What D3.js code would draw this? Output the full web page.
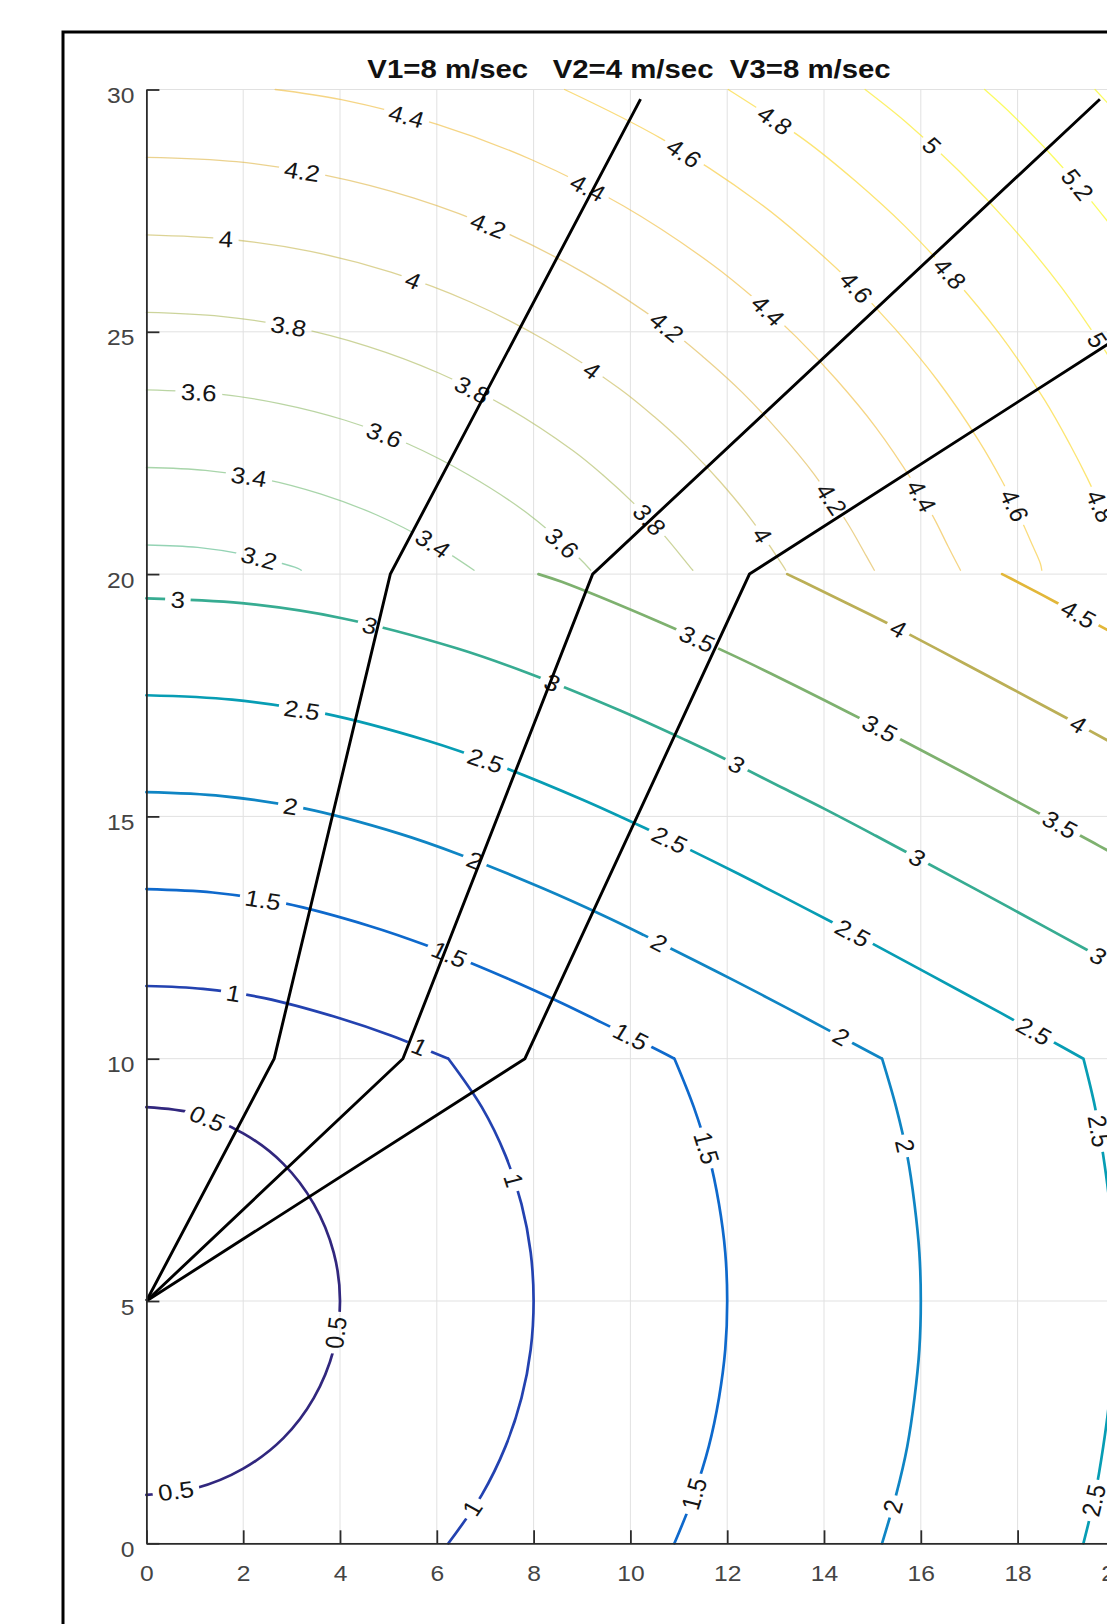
<!DOCTYPE html>
<html>
<head>
<meta charset="utf-8">
<script src="https://cdn.jsdelivr.net/npm/d3@7"></script>
<style>
  body { margin: 0; background: #fff; }
  svg { display: block; }
  text { font-family: "Liberation Sans", Arial, sans-serif; }
</style>
</head>
<body>
<svg id="chart" width="1107" height="1624"></svg>
<script>
// Title and axis ticks.
const title = "V1=8 m/sec   V2=4 m/sec  V3=8 m/sec";
const xTicks = [0, 2, 4, 6, 8, 10, 12, 14, 16, 18, 20];
const yTicks = [0, 5, 10, 15, 20, 25, 30];

// Ray paths from the source at (0,5), bending at the layer boundaries.
const ray1 = [[0, 5], [2.64, 10], [5.04, 20], [10.21, 29.8]];
const ray2 = [[0, 5], [5.3, 10], [9.22, 20], [19.7, 29.8]];
const ray3 = [[0, 5], [7.82, 10], [12.46, 20], [20, 24.83]];

// Travel time contours for layers 1 and 2 (step 0.5).
const lo05 = [[0, 9], [1, 8.87], [2, 8.46], [2.83, 7.83], [3.46, 7], [3.87, 6], [4, 5], [3.87, 4], [3.46, 3], [2.83, 2.17], [2, 1.54], [1, 1.13], [0, 1]];
const lo10 = [[0, 11.5], [1.17, 11.44], [2.44, 11.25], [4.01, 10.83], [5.08, 10.47], [5.75, 10.2], [6.24, 10], [6.93, 9], [7.42, 8], [7.75, 7], [7.94, 6], [8, 5], [7.94, 4], [7.75, 3], [7.42, 2], [6.93, 1], [6.24, 0]];
const lo15 = [[0, 13.5], [1.37, 13.43], [2.84, 13.21], [4.61, 12.74], [5.78, 12.34], [7.4, 11.68], [8.6, 11.14], [9.4, 10.75], [10.44, 10.24], [10.91, 10], [11.31, 9], [11.62, 8], [11.83, 7], [11.96, 6], [12, 5], [11.96, 4], [11.83, 3], [11.62, 2], [11.31, 1], [10.91, 0]];
const lo20 = [[0, 15.5], [1.57, 15.42], [3.24, 15.17], [5.21, 14.65], [6.48, 14.21], [8.2, 13.51], [9.45, 12.95], [10.28, 12.55], [11.34, 12.02], [12.17, 11.6], [13.21, 11.06], [14.09, 10.59], [15.2, 10], [15.49, 9], [15.72, 8], [15.87, 7], [15.97, 6], [16, 5], [15.97, 4], [15.87, 3], [15.72, 2], [15.49, 1], [15.2, 0]];
const lo25 = [[0, 17.5], [1.77, 17.41], [3.64, 17.13], [5.81, 16.56], [7.18, 16.09], [9, 15.35], [10.3, 14.76], [11.15, 14.35], [12.24, 13.81], [13.08, 13.38], [14.14, 12.83], [15.03, 12.36], [16.16, 11.75], [17.66, 10.94], [18.62, 10.41], [19.36, 10], [19.6, 9], [19.77, 8], [19.9, 7], [19.97, 6], [20, 5], [19.97, 4], [19.9, 3], [19.77, 2], [19.6, 1], [19.36, 0]];
const lo30 = [[0, 19.5], [1.97, 19.4], [4.04, 19.09], [6.41, 18.47], [7.88, 17.96], [9.8, 17.18], [11.15, 16.57], [12.03, 16.15], [13.14, 15.59], [14, 15.16], [15.07, 14.6], [15.97, 14.12], [17.11, 13.51], [18.62, 12.69], [19.59, 12.16], [20, 11.93]];
const lo35 = [[8.1, 20], [8.58, 19.84], [10.6, 19.01], [12, 18.38], [12.9, 17.95], [14.04, 17.38], [14.91, 16.94], [16, 16.37], [16.91, 15.89], [18.06, 15.27], [19.58, 14.45], [20, 14.22]];
const lo40 = [[13.24, 20], [13.78, 19.74], [14.94, 19.17], [15.83, 18.72], [16.93, 18.14], [17.85, 17.65], [19.01, 17.03], [20, 16.49]];
const lo45 = [[17.68, 20], [17.86, 19.91], [18.79, 19.42], [19.96, 18.79], [20, 18.77]];
const lowerLevels = [0.5, 1, 1.5, 2, 2.5, 3, 3.5, 4, 4.5];
const lowerLines = [lo05, lo10, lo15, lo20, lo25, lo30, lo35, lo40, lo45];

// Layer 3 contours (step 0.2), thinner lines.
const up32 = [[0, 20.6], [1.06, 20.55], [2.1, 20.39], [3.13, 20.12], [3.2, 20.08]];
const up34 = [[0, 22.2], [1.22, 22.14], [2.43, 21.96], [3.61, 21.65], [4.76, 21.22], [5.85, 20.67], [6.77, 20.08]];
const up36 = [[0, 23.8], [1.38, 23.73], [2.75, 23.52], [4.09, 23.18], [5.4, 22.69], [6.65, 22.05], [7.85, 21.27], [8.95, 20.32], [9.18, 20.08]];
const up38 = [[0, 25.4], [1.54, 25.32], [3.07, 25.09], [4.57, 24.7], [6.04, 24.15], [7.45, 23.44], [8.81, 22.55], [9.45, 22.03], [10.07, 21.46], [10.66, 20.84], [11.23, 20.15], [11.29, 20.08]];
const up40 = [[0, 27], [1.7, 26.91], [3.39, 26.66], [5.05, 26.23], [6.68, 25.62], [8.25, 24.82], [9.77, 23.83], [10.49, 23.25], [11.19, 22.61], [11.86, 21.9], [12.51, 21.11], [13.12, 20.22], [13.21, 20.08]];
const up42 = [[0, 28.6], [1.86, 28.51], [3.71, 28.23], [5.53, 27.76], [7.32, 27.09], [9.05, 26.21], [10.73, 25.11], [11.53, 24.46], [12.31, 23.75], [13.06, 22.95], [13.79, 22.07], [14.48, 21.06], [14.87, 20.38], [15.04, 20.08]];
const up44 = [[2.66, 30], [4.03, 29.79], [6.01, 29.28], [7.96, 28.55], [9.85, 27.6], [11.69, 26.39], [12.57, 25.68], [13.43, 24.89], [14.26, 24.01], [15.07, 23.03], [15.84, 21.9], [16.28, 21.14], [16.56, 20.58], [16.82, 20.08]];
const up46 = [[8.64, 30], [10.65, 28.98], [12.65, 27.67], [13.61, 26.89], [14.55, 26.03], [15.46, 25.07], [16.35, 23.99], [17.2, 22.75], [17.69, 21.9], [18, 21.28], [18.31, 20.59], [18.47, 20.22], [18.5, 20.08]];
const up48 = [[12.02, 30], [13.61, 28.95], [14.65, 28.11], [15.67, 27.18], [16.66, 26.13], [17.63, 24.95], [18.56, 23.59], [19.09, 22.66], [19.44, 21.98], [19.79, 21.22], [19.96, 20.81], [20, 20.69]];
const up50 = [[14.85, 30], [15.69, 29.33], [16.79, 28.32], [17.86, 27.19], [18.91, 25.91], [19.92, 24.43], [20, 24.28]];
const up52 = [[17.32, 30], [17.91, 29.46], [19.06, 28.25], [20, 27.1]];
const up54 = [[19.6, 30], [20, 29.57]];
const upperLevels = [3.2, 3.4, 3.6, 3.8, 4, 4.2, 4.4, 4.6, 4.8, 5, 5.2, 5.4];
const upperLines = [up32, up34, up36, up38, up40, up42, up44, up46, up48, up50, up52, up54];

// Inline label spots: [level, x, y] (snapped to the line below).
const lowerLabels = [
  [3, 0.65, 19.46], [3, 4.61, 18.9], [3.5, 11.35, 18.6], [4, 15.5, 18.8], [4.5, 19.22, 19.1],
  [2.5, 3.2, 17.1], [3, 8.36, 17.7], [3.5, 15.12, 16.75], [4, 19.23, 16.85],
  [2.5, 6.97, 16.04], [3, 12.17, 16.02], [3.5, 18.83, 14.75],
  [2, 2.97, 15.14], [2, 6.77, 14.05], [2.5, 10.77, 14.43], [3, 15.91, 14.11], [3, 19.65, 12.08],
  [1.5, 2.41, 13.28], [1.5, 6.22, 12.06], [2, 10.58, 12.36], [2.5, 14.56, 12.53],
  [2, 14.35, 10.44], [2.5, 18.29, 10.48],
  [1, 1.79, 11.29], [1, 5.6, 10.14], [1.5, 9.98, 10.4],
  [0.5, 1.23, 8.7], [1, 7.46, 7.45], [1.5, 11.48, 8.13], [2, 15.63, 8.19], [2.5, 19.65, 8.5],
  [0.5, 3.89, 4.35], [0.5, 0.61, 1.08], [1, 6.75, 0.71], [1.5, 11.35, 1.01], [2, 15.42, 0.76], [2.5, 19.5, 0.9]
];
const upperLabels = [
  [4.4, 5.36, 29.4], [4.2, 3.2, 28.2], [4, 1.64, 26.85], [3.8, 2.92, 25.0], [3.6, 1.08, 23.7], [3.4, 2.11, 21.95], [3.2, 2.32, 20.3],
  [4.2, 7.03, 27.1], [4, 5.49, 26.0], [3.8, 6.71, 23.75], [3.6, 4.89, 22.8], [3.4, 5.9, 20.6],
  [4.4, 9.11, 27.95], [4.6, 11.05, 28.6], [4.8, 12.94, 29.3], [5, 16.19, 28.8], [5.2, 19.19, 28.0],
  [4.2, 10.67, 25.0], [4, 9.17, 24.15], [4.4, 12.81, 25.4], [4.6, 14.65, 25.9], [4.8, 16.49, 26.1], [5, 19.6, 24.8],
  [3.8, 10.37, 21.1], [3.6, 8.55, 20.6], [4, 12.72, 20.8], [4.2, 14.09, 21.5], [4.4, 16.0, 21.6], [4.6, 17.9, 21.4], [4.8, 19.7, 21.4]
];

const svg = d3.select("#chart");
const x = d3.scaleLinear().domain([0, 20]).range([146.4, 1114.4]);
const y = d3.scaleLinear().domain([0, 30]).range([1543.3, 89.5]);
// The reference picture is a little wider than tall, so text is stretched too.
const stretch = 1.12;

// parula colormap, a few stops of it.
const parula = d3.scaleLinear()
  .domain([0, 0.095, 0.19, 0.286, 0.397, 0.492, 0.587, 0.698, 0.794, 0.889, 1])
  .range(["#352a87", "#2053d4", "#0d75dc", "#108ed2", "#07a9c2", "#2eb7a4", "#71bf80", "#b7bd64", "#e9b94e", "#fcce2e", "#f9fb0e"])
  .clamp(true);
const color = v => parula((v - 0.7) / 4.5);

// Outer figure frame.
svg.append("rect")
  .attr("x", 63).attr("y", 32).attr("width", 1200).attr("height", 1700)
  .attr("fill", "none").attr("stroke", "#000").attr("stroke-width", 3);

// Grid.
const grid = svg.append("g").attr("stroke", "#e1e1e1").attr("stroke-width", 1);
grid.selectAll("line.gx").data(xTicks).join("line").attr("class", "gx")
  .attr("x1", d => x(d)).attr("x2", d => x(d)).attr("y1", y(0)).attr("y2", y(30));
grid.selectAll("line.gy").data(yTicks).join("line").attr("class", "gy")
  .attr("x1", x(0)).attr("x2", x(20)).attr("y1", d => y(d)).attr("y2", d => y(d));

// Mask that cuts the contour lines under their labels.
const mask = svg.append("defs").append("mask")
  .attr("id", "gaps").attr("maskUnits", "userSpaceOnUse")
  .attr("x", 0).attr("y", 0).attr("width", 1107).attr("height", 1624);
mask.append("rect").attr("width", 1107).attr("height", 1624).attr("fill", "#fff");

const line = d3.line().x(d => x(d[0])).y(d => y(d[1]));
const smooth = d3.line().x(d => x(d[0])).y(d => y(d[1])).curve(d3.curveCatmullRom.alpha(0.5));

// Smooth each contour but keep the sharp bend where it crosses y = 10.
function contourPath(pts) {
  const k = pts.findIndex((p, i) => i > 0 && i < pts.length - 1 && p[1] === 10);
  if (k < 0) return smooth(pts);
  return smooth(pts.slice(0, k + 1)) + smooth(pts.slice(k));
}

const cg = svg.append("g").attr("mask", "url(#gaps)").attr("fill", "none")
  .attr("stroke-linejoin", "round").attr("stroke-linecap", "round");
cg.selectAll("path.lo").data(lowerLevels).join("path").attr("class", "lo")
  .attr("d", (d, i) => contourPath(lowerLines[i]))
  .attr("stroke", d => d3.color(color(d)).darker(0.2)).attr("stroke-width", 2.7);
cg.selectAll("path.up").data(upperLevels).join("path").attr("class", "up")
  .attr("d", (d, i) => contourPath(upperLines[i]))
  .attr("stroke", d => color(d)).attr("stroke-width", 1.3).attr("stroke-opacity", 0.65);

// Put a label on the nearest point of its contour, turned along the line.
function place(spec, lines, levels) {
  const [lev, lx, ly] = spec;
  const pts = lines[levels.indexOf(lev)].map(p => [x(p[0]), y(p[1])]);
  const px = x(lx), py = y(ly);
  let best = null;
  for (let i = 0; i < pts.length - 1; i++) {
    const [ax, ay] = pts[i];
    const dx = pts[i + 1][0] - ax, dy = pts[i + 1][1] - ay;
    const len2 = dx * dx + dy * dy;
    let t = len2 ? ((px - ax) * dx + (py - ay) * dy) / len2 : 0;
    t = Math.max(0, Math.min(1, t));
    const cx = ax + t * dx, cy = ay + t * dy;
    const dist = (cx - px) ** 2 + (cy - py) ** 2;
    if (!best || dist < best.dist) best = { dist, cx, cy, ang: Math.atan2(dy, dx) };
  }
  let a = best.ang;
  if (a > Math.PI / 2) a -= Math.PI;
  if (a < -Math.PI / 2) a += Math.PI;
  const rot = Math.atan2(Math.sin(a), Math.cos(a) / stretch) * 180 / Math.PI;
  return { lev, x: best.cx, y: best.cy, rot };
}

const labs = lowerLabels.map(s => place(s, lowerLines, lowerLevels))
  .concat(upperLabels.map(s => place(s, upperLines, upperLevels)));
const labTransform = d => `translate(${d.x},${d.y}) scale(${stretch},1) rotate(${d.rot})`;

const texts = svg.append("g").selectAll("text").data(labs).join("text")
  .attr("transform", labTransform)
  .attr("text-anchor", "middle").attr("dy", "0.35em")
  .attr("font-size", 23).attr("fill", "#151515")
  .text(d => String(d.lev));
texts.each(function (d) { d.w = this.getComputedTextLength(); });

mask.selectAll("rect.gap").data(labs).join("rect").attr("class", "gap")
  .attr("transform", labTransform)
  .attr("x", d => -d.w / 2 - 5).attr("y", -11)
  .attr("width", d => d.w + 10).attr("height", 22)
  .attr("fill", "#000");

// Rays.
svg.append("g").selectAll("path").data([ray1, ray2, ray3]).join("path")
  .attr("d", line).attr("fill", "none")
  .attr("stroke", "#000").attr("stroke-width", 2.9).attr("stroke-linejoin", "miter");

// Axes, ticks pointing inward.
const xAxis = svg.append("g")
  .attr("transform", `translate(0,${y(0)})`)
  .call(d3.axisBottom(x).tickValues(xTicks).tickSizeInner(-13).tickSizeOuter(0));
const yAxis = svg.append("g")
  .attr("transform", `translate(${x(0)},0)`)
  .call(d3.axisLeft(y).tickValues(yTicks).tickSizeInner(-13).tickSizeOuter(0));

[xAxis, yAxis].forEach(g => {
  g.attr("font-family", null).attr("font-size", 22);
  g.select(".domain").attr("stroke", "#2b2b2b").attr("stroke-width", 1.8);
  g.selectAll(".tick line").attr("stroke", "#2b2b2b").attr("stroke-width", 1.8);
  g.selectAll(".tick text").attr("fill", "#444");
});
xAxis.selectAll(".tick text")
  .attr("y", null).attr("dy", null)
  .attr("transform", `translate(0,38) scale(${stretch},1)`);
yAxis.selectAll(".tick text")
  .attr("x", null).attr("dy", null)
  .attr("transform", `translate(-12,13) scale(${stretch},1)`);

// Title.
svg.append("text")
  .attr("transform", `translate(629,78) scale(1.13,1)`)
  .attr("text-anchor", "middle")
  .attr("font-weight", "bold").attr("font-size", 26).attr("fill", "#111")
  .attr("xml:space", "preserve").style("white-space", "pre")
  .text(title);
</script>
</body>
</html>
